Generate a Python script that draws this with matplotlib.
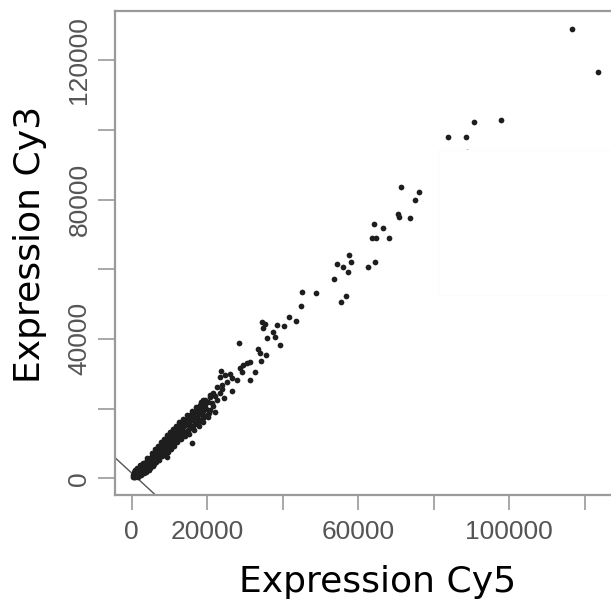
import matplotlib
matplotlib.use("Agg")
import numpy as np
import matplotlib.pyplot as plt
from matplotlib.patches import Rectangle

# Cy5 / Cy3 expression per spot
cy5_sparse = [116700, 123600, 90600, 97800, 83700, 88500, 88700, 71300, 76100, 75000,
              70600, 70900, 73700, 64300, 66600, 63600, 64600, 68200, 57600, 54500,
              55900, 58000, 57400, 64500, 62700, 53600, 56700, 55400, 45000, 48800,
              44800, 41700, 43400, 34400, 35300, 34900, 38400, 40300, 37500, 38000,
              35800, 39300, 28500, 33500, 34000, 35600, 34300, 31300, 30600, 29600,
              28700, 32700, 29100, 26000, 24700, 23400, 23600, 31300, 27800, 26500,
              25200, 23800, 22500, 23800, 26500, 21600, 20700, 24500, 19000, 18100,
              17200, 16300, 15400, 20300, 19400, 21600, 22100, 20700, 15900, 9300,
              20600]
cy3_sparse = [128900, 116500, 102300, 102700, 98000, 98000, 93700, 83500, 82100, 79800,
              75900, 74900, 74800, 73000, 71900, 68900, 68900, 69100, 64100, 61500,
              60500, 62000, 59200, 62200, 60600, 57100, 52300, 50600, 53600, 53100,
              49500, 46200, 45200, 44900, 44300, 43100, 44000, 43700, 42100, 40600,
              40200, 38300, 38700, 37000, 35900, 35400, 33700, 33500, 33000, 32500,
              31600, 30600, 30600, 29900, 29600, 29200, 30900, 28200, 28200, 28700,
              27700, 26800, 26100, 25500, 25100, 24400, 23400, 23000, 22500, 21000,
              20100, 19100, 18200, 22000, 20500, 20700, 19100, 19600, 10200, 6000,
              18700]

cy5_dense = [300, 450, 600, 700, 800, 950, 1000, 1100, 1200, 1350, 1400, 1500, 1600, 1700,
             1800, 1900, 2000, 2100, 2200, 2300, 2400, 2500, 2600, 2700, 2800, 2900, 3000,
             3100, 3200, 3300, 3400, 3500, 3600, 3700, 3800, 3900, 4000, 4100, 4200, 4300,
             4400, 4500, 4600, 4700, 4800, 4900, 5000,
             5200, 5300, 5400, 5500, 5700, 5800, 5900, 6000, 6200, 6300, 6400, 6600, 6700,
             6800, 7000, 7100, 7200, 7400, 7500, 7600, 7800, 7900, 8000, 8200, 8300, 8400,
             8600, 8700, 8800, 9000, 9100, 9200, 9400, 9500, 9600, 9800, 9900, 10000, 10200,
             10300, 10400, 10600, 10700, 10800, 11000, 11100, 11200, 11400, 11500, 11600,
             11800, 11900,
             12000, 12200, 12400, 12500, 12700, 12900, 13000, 13200, 13400, 13500, 13700,
             13900, 14000, 14200, 14400, 14600, 14800, 15000, 15200, 15400, 15600, 15800,
             16000, 16200, 16400, 16600, 16800, 17000, 17300, 17500, 17700, 18000, 18200,
             18500, 18800, 19000, 19300, 19600, 19900,
             500, 900, 1300, 1700, 2100, 2500, 2900, 3300, 3700, 4100, 4500, 4900, 5300,
             5600, 6100, 6500, 6900, 7300, 7700, 8100, 8500, 8900, 9300, 9700, 10100, 10500,
             10900, 11300, 11700, 12100, 12600, 13100, 13600, 14100, 14700, 15300, 15900,
             16500, 17100, 17700, 18300, 18900, 19500, 20100, 20800, 21300, 22000, 22700,
             23300, 18600, 16900, 15100, 13300, 11500, 9700, 7900, 6100, 4300, 2500, 1000]
cy3_dense = [500, 900, 300, 1200, 700, 1500, 400, 1900, 1000, 600, 2200, 1400, 900, 2600,
             1700, 1100, 3000, 2000, 1300, 2700, 800, 3300, 2200, 1600, 3600, 2500, 1800,
             4000, 2900, 1500, 4300, 3200, 2300, 4600, 3500, 2600, 5000, 3900, 2900, 5300,
             4200, 3300, 5600, 4500, 3000, 5900, 4800,
             3800, 6400, 5300, 4500, 7000, 5700, 4200, 7400, 6300, 5000, 8000, 6800, 5400,
             8500, 7300, 6000, 9000, 7800, 6300, 9400, 8200, 6900, 9900, 8700, 7200, 10300,
             9100, 7600, 10800, 9600, 8000, 11300, 10000, 8500, 11700, 10500, 8800, 12200, 11000,
             9300, 12600, 11400, 9700, 13100, 11800, 10200, 13500, 12300, 10500, 14000,
             12700, 11000,
             14400, 13200, 11300, 15000, 13600, 11900, 15500, 14100, 12300, 16000, 14700,
             12800, 16500, 15200, 13300, 17100, 15700, 13800, 17700, 16300, 14400, 18300,
             16800, 15000, 18800, 17400, 15500, 19400, 18000, 16000, 20000, 18700, 16700,
             20600, 19300, 17400, 21300, 20000, 18300,
             1800, 2500, 3000, 400, 3800, 1200, 4400, 2400, 1800, 5800, 2400, 3900, 7200,
             3600, 8400, 4600, 9300, 5200, 10300, 6400, 11200, 7000, 12400, 7600, 13300, 8400,
             14200, 9200, 14900, 10300, 16100, 11200, 17000, 12000, 18200, 12800, 19300,
             14000, 20500, 14900, 21800, 16200, 22600, 17600, 24000, 21500, 23500, 22400,
             24600, 18200, 17000, 15300, 13600, 11900, 10300, 8600, 6700, 4800, 2800, 1100]

ticks = [0, 20000, 40000, 60000, 80000, 100000, 120000]
x_labels = ["0", "20000", "", "60000", "", "100000", ""]
y_labels = ["0", "", "40000", "", "80000", "", "120000"]

cy5 = np.array(cy5_sparse + cy5_dense)
cy3 = np.array(cy3_sparse + cy3_dense)

fig = plt.figure(figsize=(6.11, 6.01), dpi=100)
ax = fig.add_axes([0.1882, 0.1764, 0.820, 0.8053])

ax.scatter(cy5, cy3, s=17, color="#1e1e1e", linewidths=0, zorder=3)
ax.axline((0, 1500), slope=-1, color="#555555", lw=1.0, zorder=2)

ax.set_xlim(-4424, 128290)
ax.set_ylim(-4793, 134115)

ax.set_xticks(ticks)
ax.set_xticklabels(x_labels)
ax.set_yticks(ticks)
ax.set_yticklabels(y_labels, rotation=90, va="center")

gray = "#9a9a9a"
for sp in ax.spines.values():
    sp.set_color(gray)
    sp.set_linewidth(1.6)
ax.tick_params(axis="x", length=11, width=1.2, color=gray, pad=7,
               labelsize=19, labelcolor="#555555")
ax.tick_params(axis="y", length=12, width=1.2, color=gray, pad=5,
               labelsize=19, labelcolor="#555555")
for lab in ax.get_xticklabels() + ax.get_yticklabels():
    lab.set_family("Liberation Sans")

# blank box over the upper right
fig.patches.append(Rectangle((438 / 611, 306 / 601), 1 - 438 / 611, 145 / 601,
                             transform=fig.transFigure, facecolor="white",
                             edgecolor="#fcfcfc", lw=1.0, zorder=10))

fig.text(378 / 611, 0.015, "Expression Cy5", fontsize=26, family="DejaVu Sans",
         ha="center", va="baseline")
fig.text(30 / 611, (601 - 244) / 601, "Expression Cy3", fontsize=26, family="DejaVu Sans",
         ha="center", va="center", rotation=90)

fig.savefig("out.png", dpi=100)
